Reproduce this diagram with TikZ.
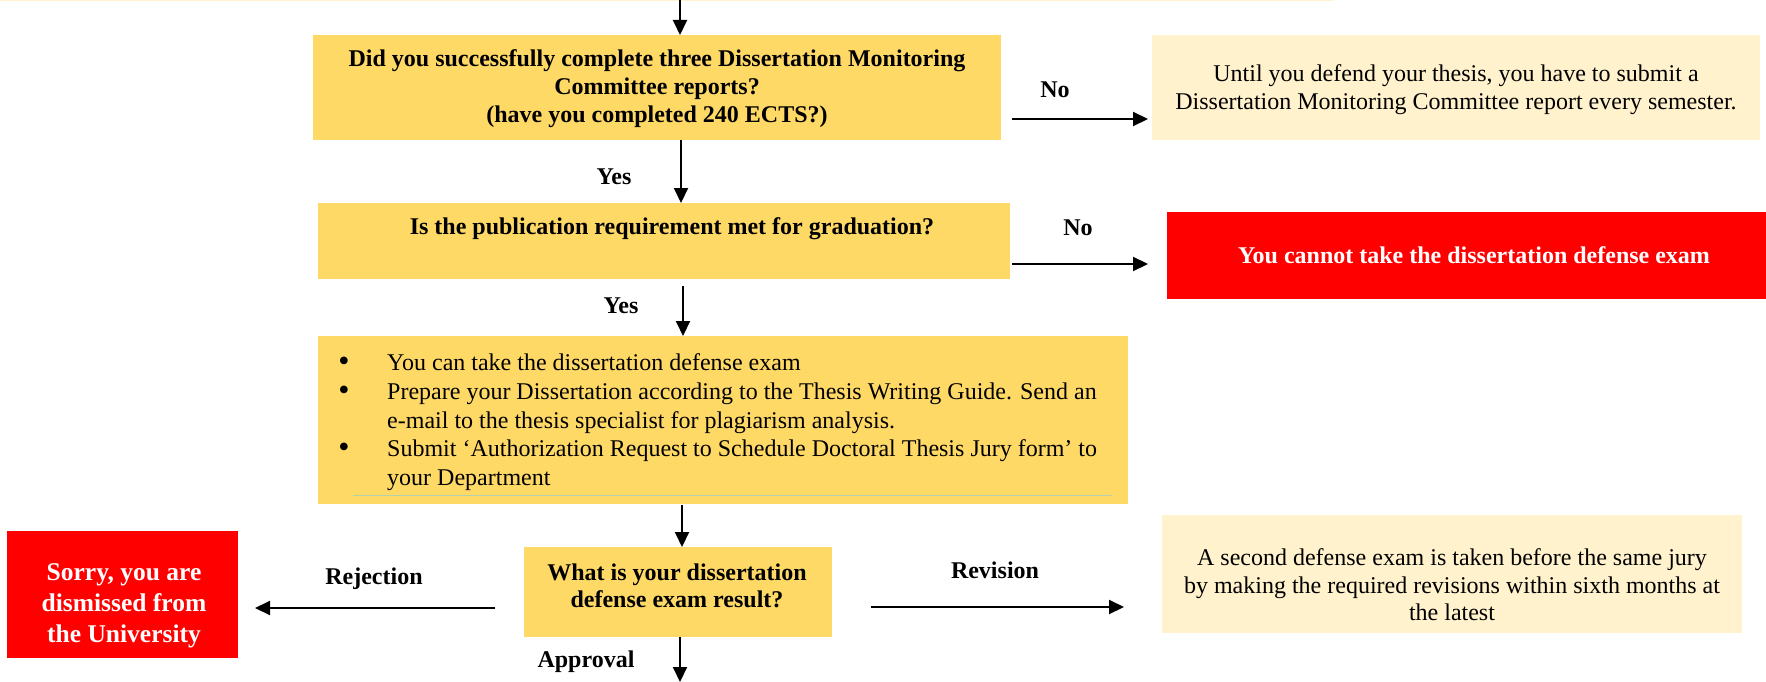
\documentclass[tikz,border=0pt]{standalone}
\usepackage{fontspec}
\setmainfont{Liberation Serif}
\usetikzlibrary{arrows.meta}
\definecolor{gold}{HTML}{FFD966}
\definecolor{cream}{HTML}{FFF2CC}
\definecolor{redbox}{HTML}{FF0000}
\definecolor{rulegreen}{HTML}{B4D0AC}
\tikzset{
  goldbox/.style={fill=gold, draw=none},
  creambox/.style={fill=cream, draw=none},
  redfill/.style={fill=redbox, draw=none},
  arr/.style={line width=2pt, -{Triangle[length=15pt,width=14pt]}},
  txt/.style={font=\fontsize{24}{28}\selectfont, inner sep=0pt, align=center},
  btxt/.style={font=\fontsize{24}{28}\selectfont\bfseries, inner sep=0pt, align=center},
  itm/.style={font=\fontsize{24}{28}\selectfont, inner sep=0pt, anchor=base west},
  bul/.style={font=\fontsize{32}{28}\selectfont, inner sep=0pt, anchor=base},
}
\begin{document}
\begin{tikzpicture}[x=1pt,y=-1pt]
\useasboundingbox (0,0) rectangle (1766,682);
% faint top strip
\fill[cream] (0,0) rectangle (1333,1.5);

% boxes
\path[goldbox] (313,35) rectangle (1001,140);
\node[btxt] (q1) at (657,89) {Did you successfully complete three Dissertation Monitoring\\Committee reports?\\(have you completed 240 ECTS?)};
\coordinate (q1t) at (680,35);
\coordinate (q1b) at (681,140);
\coordinate (q1r) at (1012,119);

\path[creambox] (1152,35) rectangle (1760,140);
\node[txt] (n1) at (1456,90) {Until you defend your thesis, you have to submit a\\Dissertation Monitoring Committee report every semester.};
\coordinate (n1l) at (1148,119);

\path[goldbox] (318,203) rectangle (1010,279);
\node[btxt] (q2) at (672,229) {Is the publication requirement met for graduation?};
\coordinate (q2t) at (681,203);
\coordinate (q2b) at (683,286);
\coordinate (q2r) at (1012,264);

\path[redfill] (1167,212) rectangle (1766,299);
\node[btxt, text=white] (n2) at (1474,255) {You cannot take the dissertation defense exam};
\coordinate (n2l) at (1148,264);

\path[goldbox] (318,336) rectangle (1128,504);
\draw[rulegreen, line width=1pt] (353,495) -- (1112,495);
\coordinate (b3t) at (683,336);
\coordinate (b3b) at (682,505);
\node[bul] (i1b) at (344,371) {\smash{\textbullet}};
\node[itm] (i1) at (387,370) {You can take the dissertation defense exam};
\node[bul] (i2b) at (344,400) {\smash{\textbullet}};
\node[itm] (i2) at (387,399) {Prepare your Dissertation according to the Thesis Writing Guide. Send an};
\node[itm] (i2c) at (387,428) {e-mail to the thesis specialist for plagiarism analysis.};
\node[bul] (i3b) at (344,457) {\smash{\textbullet}};
\node[itm] (i3) at (387,456) {Submit ‘Authorization Request to Schedule Doctoral Thesis Jury form’ to};
\node[itm] (i3c) at (387,485) {your Department};

\path[goldbox] (524,547) rectangle (832,637);
\node[btxt, font=\fontsize{24}{27}\selectfont\bfseries] (q4) at (677,586) {What is your dissertation\\defense exam result?};
\coordinate (q4t) at (682,547);
\coordinate (q4b) at (680,637);
\coordinate (q4l) at (495,608);
\coordinate (q4r) at (871,607);
\coordinate (bot) at (680,682);

\path[redfill] (7,531) rectangle (238,658);
\node[btxt, text=white, font=\fontsize{25.5}{31}\selectfont\bfseries] (rej) at (124,606) {Sorry, you are\\dismissed from\\the University};
\coordinate (rejr) at (255,608);

\path[creambox] (1162,515) rectangle (1742,633);
\node[txt, font=\fontsize{24}{27.5}\selectfont] (rev) at (1452,585) {A second defense exam is taken before the same jury\\by making the required revisions within sixth months at\\the latest};
\coordinate (revl) at (1124,607);

% arrows
\coordinate (top) at (680,0);
\draw[arr] (top) -- (q1t);
\draw[arr] (q1b) -- (q2t);
\draw[arr] (q1r) -- (n1l);
\draw[arr] (q2r) -- (n2l);
\draw[arr] (q2b) -- (b3t);
\draw[arr] (b3b) -- (q4t);
\draw[arr] (q4l) -- (rejr);
\draw[arr] (q4r) -- (revl);
\draw[arr] (q4b) -- (bot);

% labels
\node[btxt] (lno1) at (1055,90) {No};
\node[btxt] (lyes1) at (614,177) {Yes};
\node[btxt] (lno2) at (1078,228) {No};
\node[btxt] (lyes2) at (621,306) {Yes};
\node[btxt] (lrej) at (374,579) {Rejection};
\node[btxt] (lrev) at (995,570) {Revision};
\node[btxt] (lapp) at (586,662) {Approval};
\end{tikzpicture}
\end{document}
